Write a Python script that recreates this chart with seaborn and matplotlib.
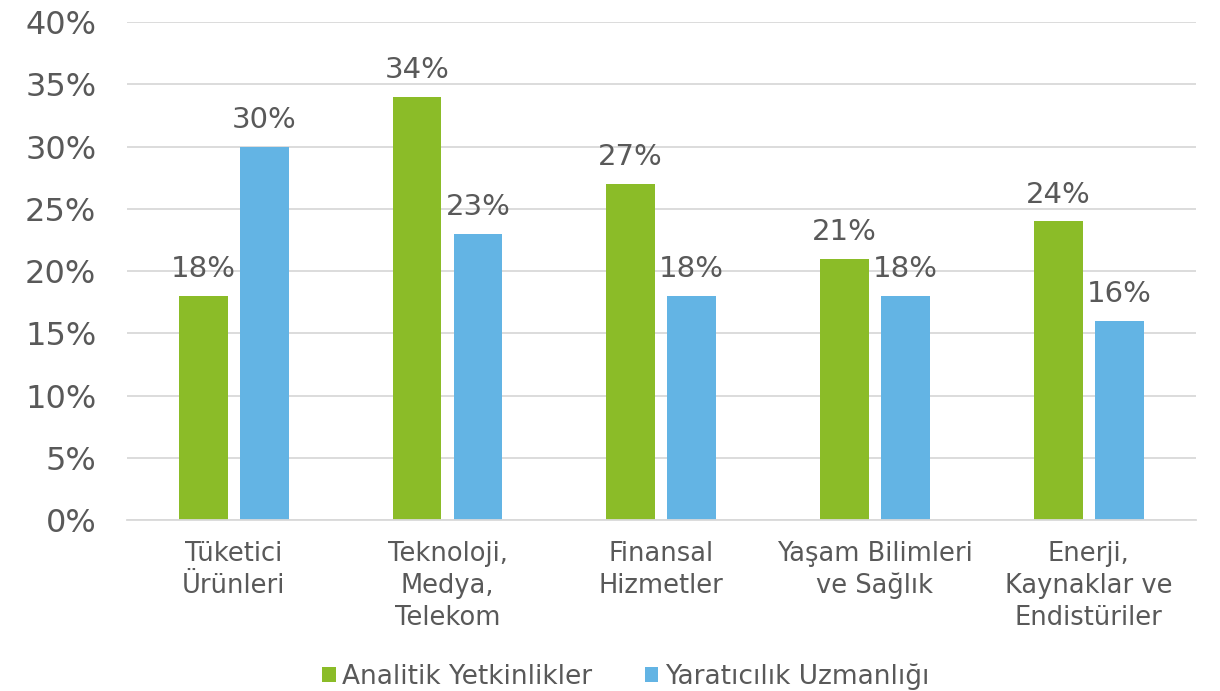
import matplotlib
matplotlib.use("Agg")
import matplotlib.pyplot as plt
import seaborn as sns
import pandas as pd
from matplotlib.patches import Patch

categories = ["Tüketici\nÜrünleri", "Teknoloji,\nMedya,\nTelekom", "Finansal\nHizmetler",
              "Yaşam Bilimleri\nve Sağlık", "Enerji,\nKaynaklar ve\nEndistüriler"]
series_names = ["Analitik Yetkinlikler", "Yaratıcılık Uzmanlığı"]
analitik = [18, 34, 27, 21, 24]
yaraticilik = [30, 23, 18, 18, 16]
y_ticks = [0, 5, 10, 15, 20, 25, 30, 35, 40]
colors = ["#8BBC28", "#63B4E4"]
text_color = "#595959"

df = pd.DataFrame({
    "Kategori": categories * 2,
    "Seri": [series_names[0]] * len(categories) + [series_names[1]] * len(categories),
    "Değer": analitik + yaraticilik,
})

sns.set_theme(style="white")
plt.rcParams["font.family"] = ["DejaVu Sans"]

fig = plt.figure(figsize=(12.2, 6.91), dpi=100)
ax = fig.add_axes([0.104, 0.2475, 0.876, 0.7205])

sns.barplot(data=df, x="Kategori", y="Değer", hue="Seri", palette=colors,
            width=0.571, gap=0.2, saturation=1, linewidth=0, ax=ax, legend=False)

ax.set_ylim(0, 40)
ax.set_xlim(-0.5, len(categories) - 0.5)
ax.set_yticks(y_ticks)
ax.set_yticklabels([f"{t}%" for t in y_ticks])
ax.yaxis.grid(True, color="#D9D9D9", linewidth=1.3)
ax.set_axisbelow(True)
for side in ["left", "right", "top"]:
    ax.spines[side].set_visible(False)
ax.spines["bottom"].set_color("#D9D9D9")
ax.spines["bottom"].set_linewidth(1.3)
ax.tick_params(axis="y", length=0, pad=22, labelsize=23, labelcolor=text_color)
ax.tick_params(axis="x", length=0, pad=15, labelsize=18.5, labelcolor=text_color)
for lbl in ax.get_xticklabels():
    lbl.set_linespacing(1.3)
    lbl.set_verticalalignment("top")
ax.set_xlabel("")
ax.set_ylabel("")

for cont in ax.containers:
    ax.bar_label(cont, labels=[f"{v:.0f}%" for v in cont.datavalues],
                 padding=9, fontsize=21, color=text_color)

handles = [Patch(facecolor=c, edgecolor="none") for c in colors]
fig.legend(handles, series_names, loc="center", bbox_to_anchor=(0.513, 0.021),
           ncol=2, frameon=False, fontsize=19, labelcolor=text_color,
           handlelength=0.5, handleheight=0.5, handletextpad=0.25, columnspacing=2.0)

fig.savefig("out.png", dpi=100)
